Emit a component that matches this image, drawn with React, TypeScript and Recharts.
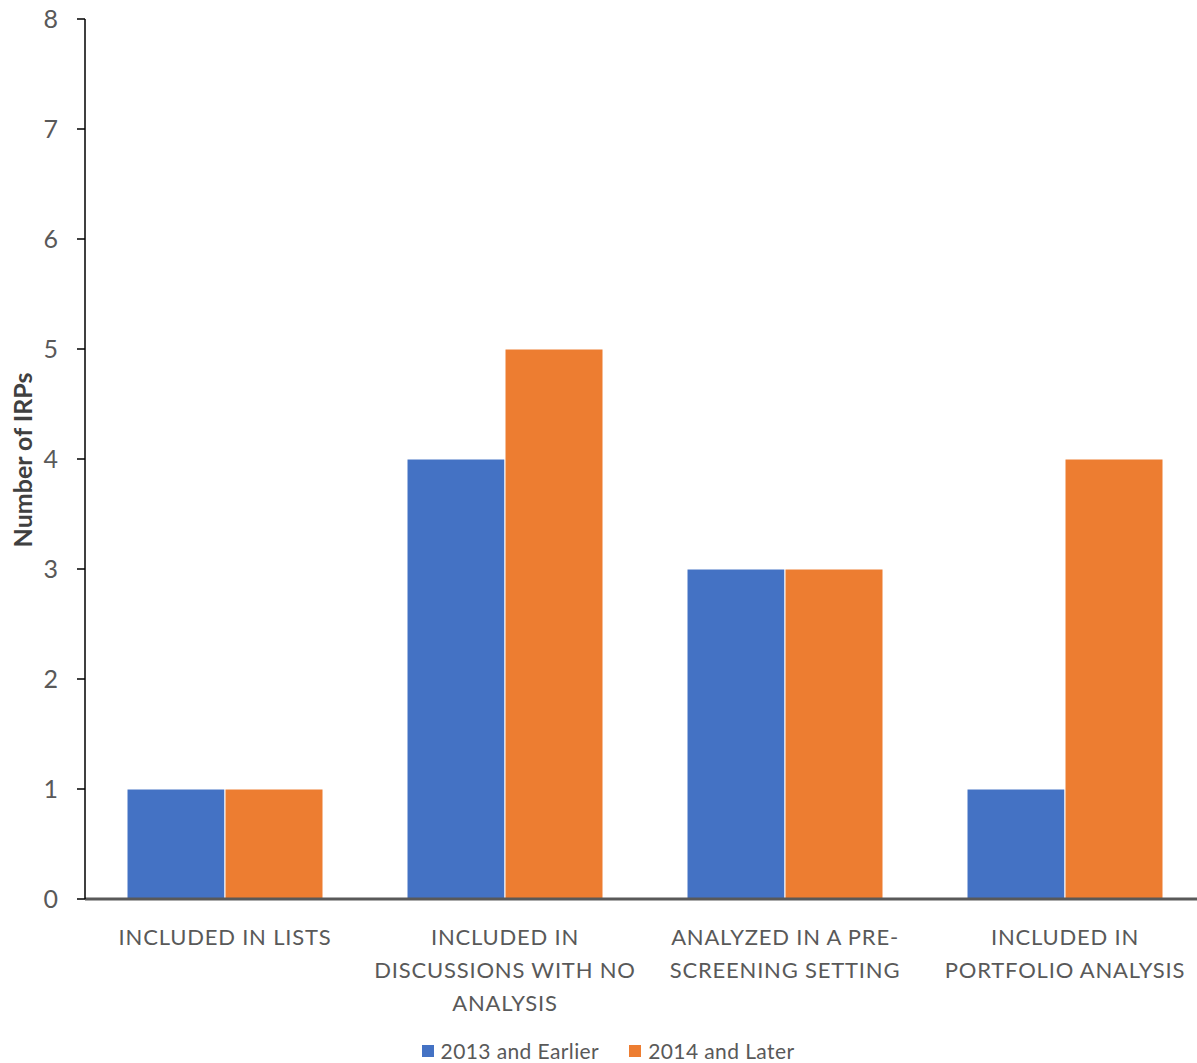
import { BarChart, Bar, XAxis, YAxis, Legend } from "recharts";

const categories = [
  "INCLUDED IN LISTS",
  "INCLUDED IN DISCUSSIONS WITH NO ANALYSIS",
  "ANALYZED IN A PRE-SCREENING SETTING",
  "INCLUDED IN PORTFOLIO ANALYSIS",
];

// wrapped tick labels, one array of lines per category
const tickLines = [
  ["INCLUDED IN LISTS"],
  ["INCLUDED IN", "DISCUSSIONS WITH NO", "ANALYSIS"],
  ["ANALYZED IN A PRE-", "SCREENING SETTING"],
  ["INCLUDED IN", "PORTFOLIO ANALYSIS"],
];

const earlier = [1, 4, 3, 1];
const later = [1, 5, 3, 4];

const yTicks = [0, 1, 2, 3, 4, 5, 6, 7, 8];

const data = categories.map((name, i) => ({
  name,
  earlier: earlier[i],
  later: later[i],
}));

const FONT = "Lato, 'Open Sans', sans-serif";
const TEXT = "#595959";

function CategoryTick(props: any) {
  const { x, y, index } = props;
  const lines = tickLines[index] || [];
  return (
    <g transform={`translate(${x},${y})`}>
      {lines.map((line, i) => (
        <text
          key={i}
          x={0}
          y={38 + i * 33}
          textAnchor="middle"
          fill={TEXT}
          fontSize={22}
          letterSpacing={0.8}
          fontFamily={FONT}
        >
          {line}
        </text>
      ))}
    </g>
  );
}

function YTitle() {
  return (
    <text
      x={32}
      y={460}
      transform="rotate(-90 32 460)"
      textAnchor="middle"
      fill="#404040"
      fontSize={25}
      fontWeight="bold"
      fontFamily={FONT}
    >
      Number of IRPs
    </text>
  );
}

function LegendContent(props: any) {
  const items = props.payload || [];
  return (
    <div
      style={{
        display: "flex",
        justifyContent: "center",
        gap: 30,
        fontFamily: FONT,
        fontSize: 21,
        letterSpacing: 0.4,
        color: TEXT,
      }}
    >
      {items.map((item: any) => (
        <div key={item.value} style={{ display: "flex", alignItems: "center" }}>
          <span
            style={{
              width: 12,
              height: 12,
              background: item.color,
              marginRight: 7,
              display: "inline-block",
            }}
          />
          <span>{item.value}</span>
        </div>
      ))}
    </div>
  );
}

export default function App() {
  return (
    <div
      style={{
        position: "absolute",
        left: 0,
        top: 0,
        width: 1197,
        height: 1063,
        overflow: "hidden",
        background: "#fff",
      }}
    >
      <BarChart
        width={1216}
        height={1063}
        data={data}
        margin={{ top: 19, right: 11, left: 0, bottom: 0 }}
        barCategoryGap="15%"
        barGap={0}
      >
        <XAxis
          dataKey="name"
          height={139}
          axisLine={{ stroke: "#595959", strokeWidth: 3 }}
          tickLine={false}
          tick={<CategoryTick />}
          interval={0}
        />
        <YAxis
          width={85}
          domain={[0, 8]}
          ticks={yTicks}
          interval={0}
          axisLine={{ stroke: "#000", strokeWidth: 1.5 }}
          tickLine={{ stroke: "#000", strokeWidth: 1.5 }}
          tickSize={8}
          tickMargin={19}
          tick={{ fill: TEXT, fontSize: 25, fontFamily: FONT }}
          label={{ content: () => <YTitle /> }}
        />
        <Legend
          verticalAlign="bottom"
          content={<LegendContent />}
          wrapperStyle={{
            top: 1038,
            bottom: "auto",
            left: 0,
            width: 1216,
          }}
        />
        <Bar
          dataKey="earlier"
          name="2013 and Earlier"
          fill="#4472C4"
          stroke="#fff"
          strokeWidth={1}
          isAnimationActive={false}
        />
        <Bar
          dataKey="later"
          name="2014 and Later"
          fill="#ED7D31"
          stroke="#fff"
          strokeWidth={1}
          isAnimationActive={false}
        />
      </BarChart>
    </div>
  );
}
